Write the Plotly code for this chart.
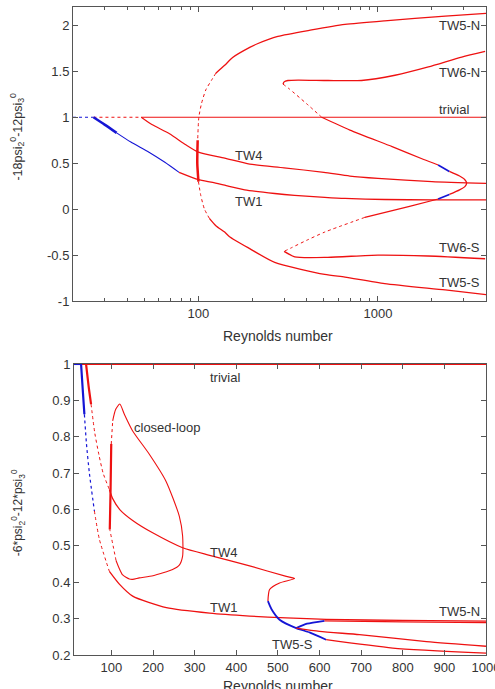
import math
import plotly.graph_objects as go

RED = "#ee1111"
BLUE = "#1515d5"
FONT = "Liberation Sans"
TXT = "#333333"

# ---------------- top panel data (log Reynolds axis) ----------------
top_triv_blue_re = [20, 26]
top_triv_blue_y = [1.0, 1.0]
top_triv_sparse_re = [26, 48]
top_triv_sparse_y = [1.0, 1.0]
top_triv_re = [48, 4000]
top_triv_y = [1.0, 1.0]

top_tw1_blue_thick_re = [26, 30, 35]
top_tw1_blue_thick_y = [1.0, 0.92, 0.83]
top_tw1_blue_re = [35, 42, 53, 65, 78]
top_tw1_blue_y = [0.83, 0.73, 0.62, 0.51, 0.40]
top_tw1_re = [78, 100, 120, 140, 181, 266, 343, 505, 655, 1090, 2000, 4000]
top_tw1_y = [0.40, 0.32, 0.29, 0.26, 0.21, 0.17, 0.15, 0.128, 0.116, 0.105, 0.10, 0.10]

top_tw4_re = [48, 55, 69, 85, 100, 140, 193, 300, 500, 698, 1000, 2000, 4000]
top_tw4_y = [1.0, 0.92, 0.82, 0.70, 0.62, 0.555, 0.49, 0.45, 0.40, 0.36, 0.335, 0.30, 0.28]

top_tw5n_re = [4000, 2370, 1090, 655, 427, 277, 213, 193, 155, 140, 125]
top_tw5n_y = [2.13, 2.10, 2.05, 2.01, 1.95, 1.88, 1.80, 1.76, 1.65, 1.565, 1.48]
top_tw5_sparse_up_re = [125, 118, 110, 104, 100.5, 99]
top_tw5_sparse_up_y = [1.48, 1.40, 1.30, 1.15, 1.0, 0.75]
top_tw5_thick_re = [99, 98.5, 100]
top_tw5_thick_y = [0.75, 0.5, 0.3]
top_tw5_sparse_lo_re = [100, 103, 108, 115]
top_tw5_sparse_lo_y = [0.3, 0.15, 0.0, -0.1]
top_tw5s_re = [115, 125, 140, 149, 193, 266, 505, 655, 1090, 2370, 4000]
top_tw5s_y = [-0.1, -0.18, -0.25, -0.30, -0.43, -0.58, -0.71, -0.74, -0.81, -0.88, -0.93]

top_tw6n_re = [3955, 2930, 1910, 1245, 810, 528, 359, 315, 300, 296]
top_tw6n_y = [1.717, 1.655, 1.547, 1.457, 1.40, 1.40, 1.405, 1.40, 1.385, 1.36]
top_tw6_sparse_up_re = [296, 320, 400, 486]
top_tw6_sparse_up_y = [1.36, 1.31, 1.148, 1.0]
top_tw6_mid_up_re = [486, 698, 1200, 1800, 2165]
top_tw6_mid_up_y = [1.0, 0.86, 0.68, 0.54, 0.48]
top_tw6_blue_up_re = [2165, 2500]
top_tw6_blue_up_y = [0.48, 0.41]
top_tw6_nose_re = [2500, 2850, 3050, 3120, 3050, 2850, 2500]
top_tw6_nose_y = [0.41, 0.36, 0.32, 0.285, 0.245, 0.21, 0.16]
top_tw6_blue_lo_re = [2500, 2165]
top_tw6_blue_lo_y = [0.16, 0.11]
top_tw6_mid_lo_re = [2165, 1500, 845]
top_tw6_mid_lo_y = [0.11, 0.03, -0.09]
top_tw6_sparse_lo_re = [845, 505, 400, 330, 300]
top_tw6_sparse_lo_y = [-0.09, -0.25, -0.34, -0.42, -0.46]
top_tw6s_re = [300, 344, 525, 1000, 1900, 3955]
top_tw6s_y = [-0.46, -0.52, -0.525, -0.50, -0.51, -0.54]

top_labels = ["TW5-N", "TW6-N", "trivial", "TW4", "TW1", "TW6-S", "TW5-S"]
top_label_re = [2136, 2136, 2136, 155, 155, 2136, 2136]
top_label_y = [2.0, 1.49, 1.087, 0.587, 0.087, -0.413, -0.804]

top_xticks = [100, 1000]
top_xminor = [20, 30, 40, 50, 60, 70, 80, 90, 200, 300, 400, 500, 600, 700, 800, 900, 2000, 3000, 4000]
top_yticks = [-1, -0.5, 0, 0.5, 1, 1.5, 2]
top_yticklabels = ["-1", "-0.5", "0", "0.5", "1", "1.5", "2"]

# ---------------- bottom panel data (linear Reynolds axis) ----------------
bot_triv_blue_re = [10, 27]
bot_triv_blue_y = [1.0, 1.0]
bot_triv_re = [27, 1000]
bot_triv_y = [1.0, 1.0]

bot_tw1_blue_thick_re = [27, 31, 35]
bot_tw1_blue_thick_y = [1.0, 0.93, 0.862]
bot_tw1_blue_sparse_re = [35, 40, 47, 59]
bot_tw1_blue_sparse_y = [0.862, 0.78, 0.70, 0.596]
bot_tw1_sparse_re = [59, 71, 95]
bot_tw1_sparse_y = [0.596, 0.518, 0.43]
bot_tw1_re = [95, 119, 151, 232, 336, 432, 520, 616, 800, 1000]
bot_tw1_y = [0.43, 0.395, 0.362, 0.33, 0.315, 0.307, 0.302, 0.298, 0.295, 0.293]

bot_tw4_thick_re = [39, 45, 51]
bot_tw4_thick_y = [1.0, 0.94, 0.89]
bot_tw4_sparse_re = [51, 60, 70, 80, 95]
bot_tw4_sparse_y = [0.89, 0.81, 0.75, 0.70, 0.655]
bot_tw4_re = [95, 103, 120, 151, 199, 271, 336, 432, 520, 540, 504, 480, 476]
bot_tw4_y = [0.655, 0.63, 0.60, 0.57, 0.536, 0.495, 0.474, 0.445, 0.416, 0.41, 0.398, 0.38, 0.348]
bot_tw5_blue_re = [476, 485, 504, 544, 576, 616]
bot_tw5_blue_y = [0.348, 0.325, 0.297, 0.274, 0.262, 0.242]
bot_tw5_lo_re = [616, 776, 1000]
bot_tw5_lo_y = [0.242, 0.219, 0.205]
bot_tw5n_blue_re = [544, 570, 612]
bot_tw5n_blue_y = [0.274, 0.286, 0.294]
bot_tw5n_re = [612, 800, 1000]
bot_tw5n_y = [0.294, 0.291, 0.289]
bot_tw5s_re = [544, 600, 696, 857, 1000]
bot_tw5s_y = [0.274, 0.265, 0.256, 0.237, 0.224]

bot_loop_thick_re = [96, 98, 99.5]
bot_loop_thick_y = [0.545, 0.66, 0.78]
bot_loop_sparse_a_re = [99.5, 103]
bot_loop_sparse_a_y = [0.78, 0.844]
bot_loop_re = [103, 110, 120, 131, 151, 191, 231, 263, 271, 271, 263, 247, 200, 167, 151, 143, 127, 118, 111]
bot_loop_y = [0.844, 0.875, 0.89, 0.862, 0.816, 0.752, 0.678, 0.582, 0.527, 0.472, 0.447, 0.435, 0.418, 0.412, 0.408, 0.409, 0.42, 0.44, 0.46]
bot_loop_sparse_b_re = [111, 104, 96]
bot_loop_sparse_b_y = [0.46, 0.50, 0.545]

bot_labels = ["trivial", "closed-loop", "TW4", "TW1", "TW5-N", "TW5-S"]
bot_label_re = [331, 149, 331, 331, 883, 482]
bot_label_y = [0.964, 0.825, 0.482, 0.33, 0.32, 0.23]

bot_xticks = [100, 200, 300, 400, 500, 600, 700, 800, 900, 1000]
bot_yticks = [0.2, 0.3, 0.4, 0.5, 0.6, 0.7, 0.8, 0.9, 1.0]
bot_yticklabels = ["0.2", "0.3", "0.4", "0.5", "0.6", "0.7", "0.8", "0.9", "1"]

# ---------------- figure ----------------
fig = go.Figure()


def seg(x, y, color, width, dash="solid", panel=1):
    fig.add_trace(go.Scatter(
        x=x, y=y, mode="lines",
        line=dict(color=color, width=width, dash=dash, shape="spline", smoothing=0.6),
        xaxis="x" if panel == 1 else "x2",
        yaxis="y" if panel == 1 else "y2",
        hoverinfo="skip", showlegend=False))


# top panel
seg(top_triv_blue_re, top_triv_blue_y, BLUE, 1, "dot")
seg(top_triv_sparse_re, top_triv_sparse_y, RED, 1, "dot")
seg(top_triv_re, top_triv_y, RED, 1.2)
seg(top_tw1_blue_thick_re, top_tw1_blue_thick_y, BLUE, 2.5)
seg(top_tw1_blue_re, top_tw1_blue_y, BLUE, 1.1)
seg(top_tw1_re, top_tw1_y, RED, 1.3)
seg(top_tw4_re, top_tw4_y, RED, 1.2)
seg(top_tw5n_re, top_tw5n_y, RED, 1.3)
seg(top_tw5_sparse_up_re, top_tw5_sparse_up_y, RED, 1, "dot")
seg(top_tw5_thick_re, top_tw5_thick_y, RED, 2.5)
seg(top_tw5_sparse_lo_re, top_tw5_sparse_lo_y, RED, 1, "dot")
seg(top_tw5s_re, top_tw5s_y, RED, 1.3)
seg(top_tw6n_re, top_tw6n_y, RED, 1.3)
seg(top_tw6_sparse_up_re, top_tw6_sparse_up_y, RED, 1, "dot")
seg(top_tw6_mid_up_re, top_tw6_mid_up_y, RED, 1.2)
seg(top_tw6_blue_up_re, top_tw6_blue_up_y, BLUE, 1.6)
seg(top_tw6_nose_re, top_tw6_nose_y, RED, 1.3)
seg(top_tw6_blue_lo_re, top_tw6_blue_lo_y, BLUE, 1.6)
seg(top_tw6_mid_lo_re, top_tw6_mid_lo_y, RED, 1.2)
seg(top_tw6_sparse_lo_re, top_tw6_sparse_lo_y, RED, 1, "dot")
seg(top_tw6s_re, top_tw6s_y, RED, 1.3)

# bottom panel
seg(bot_triv_blue_re, bot_triv_blue_y, BLUE, 2, panel=2)
seg(bot_triv_re, bot_triv_y, RED, 2, panel=2)
seg(bot_tw1_blue_thick_re, bot_tw1_blue_thick_y, BLUE, 2.2, panel=2)
seg(bot_tw1_blue_sparse_re, bot_tw1_blue_sparse_y, BLUE, 1.2, "dot", panel=2)
seg(bot_tw1_sparse_re, bot_tw1_sparse_y, RED, 1, "dot", panel=2)
seg(bot_tw1_re, bot_tw1_y, RED, 1.3, panel=2)
seg(bot_tw4_thick_re, bot_tw4_thick_y, RED, 2.2, panel=2)
seg(bot_tw4_sparse_re, bot_tw4_sparse_y, RED, 1, "dot", panel=2)
seg(bot_tw4_re, bot_tw4_y, RED, 1.2, panel=2)
seg(bot_tw5_blue_re, bot_tw5_blue_y, BLUE, 1.8, panel=2)
seg(bot_tw5_lo_re, bot_tw5_lo_y, RED, 1.3, panel=2)
seg(bot_tw5n_blue_re, bot_tw5n_blue_y, BLUE, 1.8, panel=2)
seg(bot_tw5n_re, bot_tw5n_y, RED, 1.3, panel=2)
seg(bot_tw5s_re, bot_tw5s_y, RED, 1.3, panel=2)
seg(bot_loop_thick_re, bot_loop_thick_y, RED, 2.2, panel=2)
seg(bot_loop_sparse_a_re, bot_loop_sparse_a_y, RED, 1, "dot", panel=2)
seg(bot_loop_re, bot_loop_y, RED, 1.1, panel=2)
seg(bot_loop_sparse_b_re, bot_loop_sparse_b_y, RED, 1, "dot", panel=2)

annotations = []
for t, xr, yv in zip(top_labels, top_label_re, top_label_y):
    annotations.append(dict(text=t, x=math.log10(xr), y=yv, xref="x", yref="y",
                            xanchor="left", yanchor="middle", showarrow=False,
                            font=dict(family=FONT, size=13, color=TXT)))
for t, xr, yv in zip(bot_labels, bot_label_re, bot_label_y):
    annotations.append(dict(text=t, x=xr, y=yv, xref="x2", yref="y2",
                            xanchor="left", yanchor="middle", showarrow=False,
                            font=dict(family=FONT, size=13, color=TXT)))

# axis titles
annotations.append(dict(text="Reynolds number", x=0.497, y=0.4923, xref="paper", yref="paper",
                        xanchor="center", yanchor="middle", showarrow=False,
                        font=dict(family=FONT, size=14, color=TXT)))
annotations.append(dict(text="Reynolds number", x=0.497, y=-0.048, xref="paper", yref="paper",
                        xanchor="center", yanchor="middle", showarrow=False,
                        font=dict(family=FONT, size=14, color=TXT)))
annotations.append(dict(text="-18psi<sub>2</sub><sup>0</sup>-12psi<sub>3</sub><sup>0</sup>",
                        x=-0.1356, y=0.80, xref="paper", yref="paper", textangle=-90,
                        xanchor="center", yanchor="middle", showarrow=False,
                        font=dict(family=FONT, size=12.5, color=TXT)))
annotations.append(dict(text="-6*psi<sub>2</sub><sup>0</sup>-12*psi<sub>3</sub><sup>0</sup>",
                        x=-0.133, y=0.219, xref="paper", yref="paper", textangle=-90,
                        xanchor="center", yanchor="middle", showarrow=False,
                        font=dict(family=FONT, size=12, color=TXT)))

AX = dict(showline=True, linecolor="#555555", linewidth=1, mirror="ticks",
          ticks="inside", ticklen=5, tickcolor="#555555", tickwidth=1,
          showgrid=False, zeroline=False, automargin=False,
          tickfont=dict(family=FONT, size=13, color=TXT))

fig.update_layout(
    width=495, height=689,
    margin=dict(l=73, r=9, t=7, b=34, autoexpand=False),
    paper_bgcolor="white", plot_bgcolor="white",
    annotations=annotations,
    xaxis=dict(AX, type="log", domain=[0, 1], anchor="y",
               range=[math.log10(20), math.log10(4000)],
               tickmode="array", tickvals=top_xticks, ticktext=[str(v) for v in top_xticks],
               minor=dict(tickmode="array", tickvals=top_xminor, ticks="inside",
                          ticklen=3, tickcolor="#555555", showgrid=False)),
    yaxis=dict(AX, domain=[0.5463, 1], anchor="x", range=[-1, 2.2],
               tickmode="array", tickvals=top_yticks, ticktext=top_yticklabels),
    xaxis2=dict(AX, domain=[0.0024, 1], anchor="y2", range=[10, 1000],
                tickmode="array", tickvals=bot_xticks, ticktext=[str(v) for v in bot_xticks],
                ticklabeloverflow="allow"),
    yaxis2=dict(AX, domain=[0, 0.449], anchor="x2", range=[0.2, 1.0],
                tickmode="array", tickvals=bot_yticks, ticktext=bot_yticklabels),
)

fig.write_html("out.html")
